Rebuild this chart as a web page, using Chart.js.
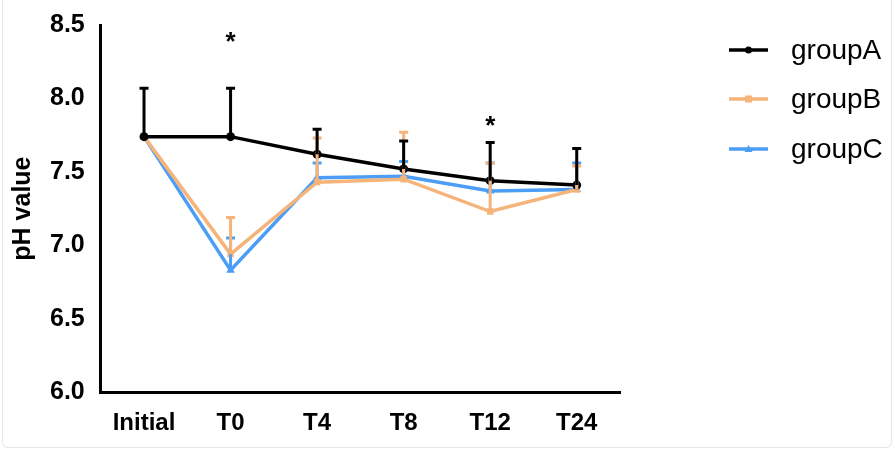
<!DOCTYPE html>
<html>
<head>
<meta charset="utf-8">
<script src="https://cdn.jsdelivr.net/npm/chart.js@4"></script>
<style>
html,body{margin:0;padding:0;background:#fff;}
#wrap{position:relative;width:895px;height:452px;}
#card{position:absolute;left:2px;top:0;width:890px;height:448px;border:1px solid #e6e6e6;border-top:none;border-radius:0 0 6px 6px;box-sizing:border-box;}
canvas{position:absolute;left:0;top:0;}
</style>
</head>
<body>
<div id="wrap"><div id="card"></div><canvas id="c" width="895" height="452"></canvas></div>
<script>
const categories = ['Initial','T0','T4','T8','T12','T24'];
const groupA = [7.74, 7.74, 7.62, 7.52, 7.44, 7.41];
const groupAErr = [0.33, 0.33, 0.17, 0.19, 0.26, 0.25];
const groupB = [7.74, 6.94, 7.43, 7.45, 7.23, 7.38];
const groupBErr = [0.0, 0.25, 0.30, 0.32, 0.33, 0.16];
const groupC = [7.74, 6.83, 7.46, 7.47, 7.37, 7.38];
const groupCErr = [0.0, 0.22, 0.10, 0.10, 0.19, 0.18];
const yTicks = [6.0, 6.5, 7.0, 7.5, 8.0, 8.5];
const sigLabels = ['T0', 'T12'];
const sigValues = [8.41, 7.84];

const FONT = 'Liberation Sans, Arial, sans-serif';

const errorBars = {
  id: 'errorBars',
  afterDatasetsDraw(chart) {
    const ctx = chart.ctx;
    const x = chart.scales.x, y = chart.scales.y;
    const order = [2, 1, 0];
    order.forEach(di => {
      const ds = chart.data.datasets[di];
      const errs = ds.errors;
      ctx.save();
      ctx.strokeStyle = ds.borderColor;
      ctx.lineWidth = 3;
      ds.data.forEach((v, i) => {
        if (!errs[i]) return;
        const px = x.getPixelForValue(i);
        const p0 = y.getPixelForValue(v);
        const p1 = y.getPixelForValue(v + errs[i]);
        ctx.beginPath();
        ctx.moveTo(px, p0); ctx.lineTo(px, p1);
        ctx.moveTo(px - 4.5, p1); ctx.lineTo(px + 4.5, p1);
        ctx.stroke();
      });
      ctx.restore();
    });
    ctx.save();
    ctx.fillStyle = '#000';
    ctx.font = 'bold 26px ' + FONT;
    ctx.textAlign = 'center';
    ctx.textBaseline = 'middle';
    sigLabels.forEach((lab, k) => {
      const i = categories.indexOf(lab);
      ctx.fillText('*', x.getPixelForValue(i), y.getPixelForValue(sigValues[k]) + 5);
    });
    ctx.restore();
    ctx.save();
    const lx0 = 729, lx1 = 768, tx = 791;
    const ys = [50, 99, 149];
    chart.data.datasets.forEach((ds, i) => {
      const yy = ys[i];
      ctx.strokeStyle = ds.borderColor;
      ctx.fillStyle = ds.borderColor;
      ctx.lineWidth = 3.5;
      ctx.beginPath(); ctx.moveTo(lx0, yy); ctx.lineTo(lx1, yy); ctx.stroke();
      const cx = (lx0 + lx1) / 2;
      ctx.beginPath();
      if (ds.pointStyle === 'circle') ctx.arc(cx, yy, 3.5, 0, Math.PI * 2);
      else if (ds.pointStyle === 'rect') ctx.rect(cx - 3.5, yy - 3.5, 7, 7);
      else { ctx.moveTo(cx, yy - 4); ctx.lineTo(cx + 4, yy + 3); ctx.lineTo(cx - 4, yy + 3); ctx.closePath(); }
      ctx.fill();
      ctx.fillStyle = '#000';
      ctx.font = '28px ' + FONT;
      ctx.textAlign = 'left';
      ctx.textBaseline = 'middle';
      ctx.fillText(ds.label, tx, yy + 1);
    });
    ctx.restore();
  }
};

function ds(label, data, errors, color, style, r) {
  return {label, data, errors, borderColor: color, backgroundColor: color,
    pointBackgroundColor: color, pointBorderColor: color, pointBorderWidth: 0,
    borderWidth: 3.5, pointStyle: style, pointRadius: r, tension: 0};
}

new Chart(document.getElementById('c'), {
  type: 'line',
  data: {
    labels: categories,
    datasets: [
      Object.assign(ds('groupA', groupA, groupAErr, '#000000', 'circle', 4.5), {order: 0}),
      Object.assign(ds('groupB', groupB, groupBErr, '#F4B47A', 'rect', 4.5), {order: 1}),
      Object.assign(ds('groupC', groupC, groupCErr, '#4C9DF5', 'triangle', 5), {order: 2})
    ]
  },
  options: {
    responsive: false,
    animation: false,
    devicePixelRatio: 1,
    layout: {padding: {left: 4, right: 275, top: 25, bottom: 4}},
    plugins: {legend: {display: false}, tooltip: {enabled: false}},
    scales: {
      x: {
        offset: true,
        grid: {display: false, drawTicks: true, tickLength: 7, tickColor: '#000', tickWidth: 3},
        border: {color: '#000', width: 3},
        ticks: {color: '#000', font: {family: FONT, size: 24, weight: 'bold'}, padding: 10, maxRotation: 0}
      },
      y: {
        min: 6.0, max: 8.5,
        afterBuildTicks(axis) { axis.ticks = yTicks.map(v => ({value: v})); },
        grid: {display: false, drawTicks: true, tickLength: 8, tickColor: '#000', tickWidth: 3},
        border: {color: '#000', width: 3},
        ticks: {color: '#000', font: {family: FONT, size: 25, weight: 'bold'}, padding: 8, callback: v => Number(v).toFixed(1)},
        title: {display: true, text: 'pH value', color: '#000', font: {family: FONT, size: 25, weight: 'bold'}, padding: 4}
      }
    }
  },
  plugins: [errorBars]
});
</script>
</body>
</html>
